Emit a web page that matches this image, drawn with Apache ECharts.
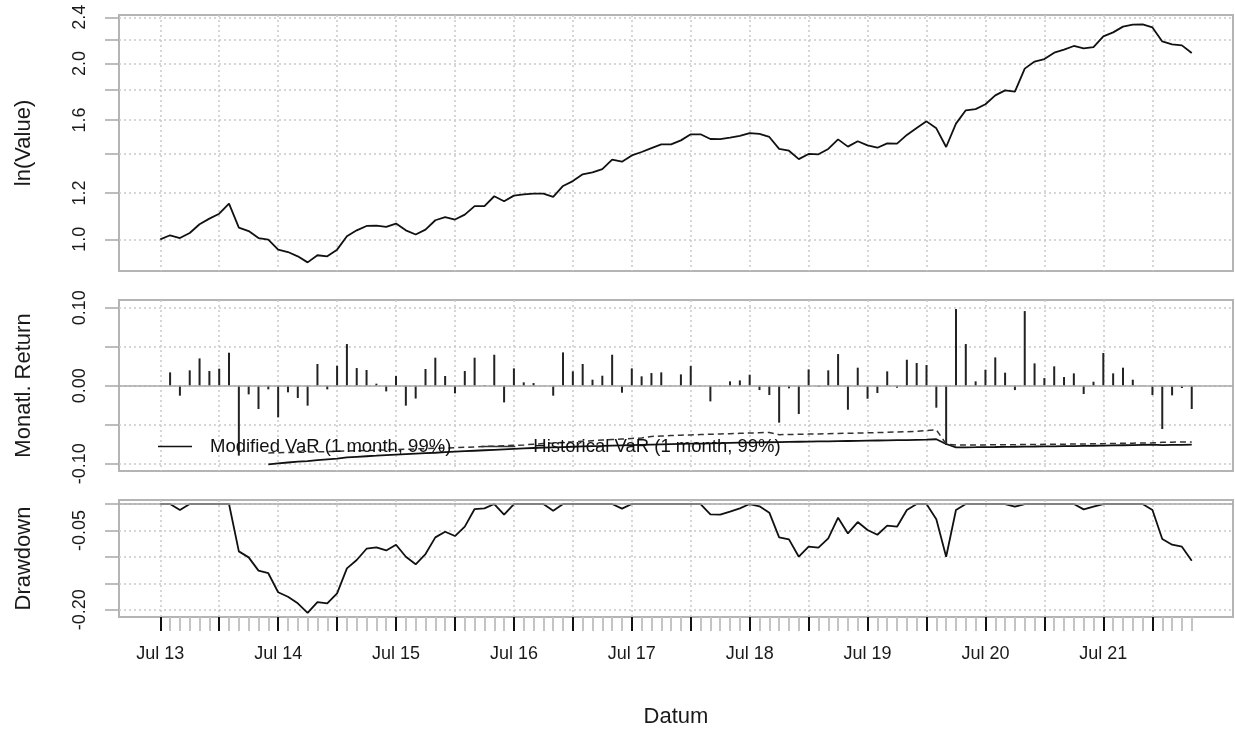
<!DOCTYPE html>
<html><head><meta charset="utf-8">
<script src="https://cdn.jsdelivr.net/npm/echarts@6/dist/echarts.min.js"></script>
<style>html,body{margin:0;padding:0;background:#fff}#c{width:1235px;height:731px}</style>
</head><body><div id="c"></div>
<script>
const dates = [
"2013-07","2013-08","2013-09","2013-10","2013-11","2013-12",
"2014-01","2014-02","2014-03","2014-04","2014-05","2014-06","2014-07","2014-08","2014-09","2014-10","2014-11","2014-12",
"2015-01","2015-02","2015-03","2015-04","2015-05","2015-06","2015-07","2015-08","2015-09","2015-10","2015-11","2015-12",
"2016-01","2016-02","2016-03","2016-04","2016-05","2016-06","2016-07","2016-08","2016-09","2016-10","2016-11","2016-12",
"2017-01","2017-02","2017-03","2017-04","2017-05","2017-06","2017-07","2017-08","2017-09","2017-10","2017-11","2017-12",
"2018-01","2018-02","2018-03","2018-04","2018-05","2018-06","2018-07","2018-08","2018-09","2018-10","2018-11","2018-12",
"2019-01","2019-02","2019-03","2019-04","2019-05","2019-06","2019-07","2019-08","2019-09","2019-10","2019-11","2019-12",
"2020-01","2020-02","2020-03","2020-04","2020-05","2020-06","2020-07","2020-08","2020-09","2020-10","2020-11","2020-12",
"2021-01","2021-02","2021-03","2021-04","2021-05","2021-06","2021-07","2021-08","2021-09","2021-10","2021-11","2021-12",
"2022-01","2022-02","2022-03","2022-04"];

const cumValue = [
1.000,1.016,1.005,1.025,1.061,1.085,1.106,1.151,1.047,1.033,1.005,0.999,0.960,0.951,0.935,0.913,0.939,0.935,0.960,1.012,
1.036,1.054,1.055,1.050,1.064,1.036,1.019,1.039,1.078,1.091,1.081,1.102,1.140,1.140,1.185,1.162,1.188,1.194,1.197,1.197,
1.182,1.234,1.258,1.292,1.302,1.319,1.369,1.358,1.392,1.411,1.433,1.454,1.454,1.477,1.513,1.513,1.485,1.484,1.493,1.503,
1.520,1.515,1.497,1.428,1.418,1.372,1.400,1.398,1.428,1.483,1.441,1.472,1.448,1.435,1.460,1.458,1.509,1.551,1.592,1.549,
1.439,1.578,1.663,1.671,1.703,1.764,1.799,1.790,1.960,2.015,2.035,2.087,2.112,2.143,2.123,2.134,2.226,2.261,2.313,2.331,
2.334,2.306,2.182,2.157,2.148,2.084];

const monthlyReturn = [
0,0.0171,-0.0128,0.0197,0.0350,0.0188,0.0218,0.0423,-0.0897,-0.0111,-0.0299,-0.0047,-0.0406,-0.0085,-0.0158,-0.0256,0.0278,-0.0047,0.0256,0.0534,
0.0226,0.0201,0.0026,-0.0073,0.0124,-0.0256,-0.0165,0.0214,0.0359,0.0124,-0.0098,0.0188,0.0359,0.0009,0.0397,-0.0214,0.0222,0.0043,0.0034,0.0003,
-0.0128,0.0427,0.0184,0.0278,0.0077,0.0128,0.0397,-0.0090,0.0222,0.0120,0.0162,0.0171,0.0003,0.0145,0.0252,0.0003,-0.0201,-0.0004,0.0056,0.0068,
0.0141,-0.0056,-0.0120,-0.0474,-0.0034,-0.0363,0.0209,-0.0013,0.0197,0.0406,-0.0308,0.0231,-0.0167,-0.0094,0.0184,-0.0026,0.0333,0.0291,0.0265,-0.0282,
-0.0760,0.0983,0.0534,0.0056,0.0205,0.0363,0.0167,-0.0056,0.0957,0.0286,0.0098,0.0248,0.0111,0.0158,-0.0107,0.0051,0.0419,0.0158,0.0231,0.0077,
0.0004,-0.0120,-0.0556,-0.0124,-0.0030,-0.0299];

const drawdown = [
0,0,-0.0114,0,0,0,0,0,-0.0896,-0.101,-0.126,-0.131,-0.167,-0.1755,-0.188,-0.206,-0.1856,-0.188,-0.169,-0.1218,
-0.106,-0.0846,-0.082,-0.0878,-0.077,-0.0997,-0.114,-0.0947,-0.0631,-0.0524,-0.0606,-0.0429,-0.0095,-0.0082,0,-0.0202,0,0,0,0,
-0.0126,0,0,0,0,0,0,-0.0088,0,0,0,0,0,0,0,0,-0.0196,-0.0202,-0.0145,-0.0082,
0,-0.0044,-0.0164,-0.0631,-0.0669,-0.0997,-0.0808,-0.0827,-0.065,-0.0259,-0.0556,-0.0341,-0.0492,-0.0581,-0.041,-0.0429,-0.0114,0,0,-0.029,
-0.0997,-0.0114,0,0,0,0,0,-0.005,0,0,0,0,0,0,-0.0101,-0.005,0,0,0,0,
0,-0.0114,-0.0663,-0.077,-0.0808,-0.1073];

const modifiedVaR = [
null,null,null,null,null,null,null,null,null,null,null,
-0.1008,-0.0995,-0.0985,-0.0975,-0.0968,-0.0955,-0.0945,-0.0935,-0.0920,
-0.0912,-0.0905,-0.0898,-0.0890,-0.0884,-0.0878,-0.0872,-0.0866,-0.0860,-0.0853,
-0.0846,-0.0840,-0.0834,-0.0828,-0.0822,-0.0816,-0.0810,-0.0804,-0.0799,-0.0795,
-0.0791,-0.0787,-0.0783,-0.0779,-0.0775,-0.0772,-0.0768,-0.0765,-0.0762,-0.0759,
-0.0756,-0.0753,-0.0750,-0.0747,-0.0744,-0.0742,-0.0739,-0.0736,-0.0733,-0.0731,
-0.0729,-0.0727,-0.0725,-0.0723,-0.0721,-0.0719,-0.0717,-0.0715,-0.0713,-0.0711,
-0.0709,-0.0707,-0.0705,-0.0703,-0.0701,-0.0699,-0.0697,-0.0694,-0.0691,-0.0687,
-0.0748,-0.0792,-0.0790,-0.0789,-0.0787,-0.0786,-0.0784,-0.0783,-0.0781,-0.0780,
-0.0778,-0.0777,-0.0775,-0.0774,-0.0772,-0.0770,-0.0768,-0.0766,-0.0764,-0.0762,
-0.0759,-0.0756,-0.0762,-0.0760,-0.0758,-0.0757];

const historicalVaR = [
null,null,null,null,null,null,null,null,null,null,null,
-0.0862,-0.0860,-0.0857,-0.0855,-0.0852,-0.0848,-0.0845,-0.0842,-0.0838,
-0.0835,-0.0831,-0.0827,-0.0823,-0.0819,-0.0815,-0.0811,-0.0807,-0.0803,-0.0799,
-0.0795,-0.0790,-0.0785,-0.0780,-0.0775,-0.0770,-0.0765,-0.0760,-0.0750,-0.0742,
-0.0735,-0.0727,-0.0720,-0.0712,-0.0705,-0.0698,-0.0691,-0.0684,-0.0677,-0.0670,
-0.0651,-0.0645,-0.0640,-0.0635,-0.0631,-0.0627,-0.0623,-0.0619,-0.0615,-0.0611,
-0.0607,-0.0603,-0.0600,-0.0628,-0.0626,-0.0624,-0.0621,-0.0619,-0.0616,-0.0613,
-0.0610,-0.0607,-0.0604,-0.0601,-0.0598,-0.0594,-0.0590,-0.0584,-0.0575,-0.0566,
-0.0748,-0.0762,-0.0761,-0.0760,-0.0759,-0.0758,-0.0757,-0.0756,-0.0755,-0.0754,
-0.0752,-0.0751,-0.0750,-0.0748,-0.0747,-0.0745,-0.0743,-0.0741,-0.0739,-0.0737,
-0.0735,-0.0733,-0.0726,-0.0724,-0.0723,-0.0722];

const valueTicks = [1.0,1.2,1.4,1.6,1.8,2.0,2.2,2.4];
const valueLabels = [1.0,1.2,1.6,2.0,2.4];
const returnTicks = [-0.10,-0.05,0,0.05,0.10];
const returnLabels = [-0.10,0,0.10];
const ddTicks = [-0.20,-0.15,-0.10,-0.05,0];
const ddLabels = [-0.20,-0.05];
const majorTickIdx = [0,6,12,18,24,30,36,42,48,54,60,66,72,78,84,90,96,101];
const xLabelIdx = [0,12,24,36,48,60,72,84,96];
const monthNames = ["Jan","Feb","Mar","Apr","May","Jun","Jul","Aug","Sep","Oct","Nov","Dec"];

const FONT = "'Liberation Sans', Arial, Helvetica, sans-serif";
const GRIDC = '#c9c9c9';
const BOXC = '#b4b4b4';
const TICKC = '#a8a8a8';
const minorTickIdx = dates.map((d,i)=>i).filter(i=>majorTickIdx.indexOf(i)<0);
function fmtDate(i){ const d = dates[Math.round(i)]; if(!d) return ''; return monthNames[+d.slice(5,7)-1] + ' ' + d.slice(2,4); }
const pairs = arr => arr.map((v,i)=> [i, v]);

const grids = [
  {left:119, right:2, top:15, height:256},
  {left:119, right:2, top:300, height:171},
  {left:119, right:2, top:500, height:117}
].map(g => Object.assign(g, {show:true, borderColor:BOXC, borderWidth:2, backgroundColor:'transparent'}));

const splitDotted = {show:true, lineStyle:{color:GRIDC, type:[2,3], width:1.5}};
const xMin = -4.2, xMax = 109.2;
function plainX(gi){
  return {type:'value', gridIndex:gi, min:xMin, max:xMax, position:'bottom',
    axisLine:{show:false, onZero:false}, axisTick:{show:false, customValues:majorTickIdx},
    axisLabel:{show:false}, splitLine:splitDotted};
}
function yAx(gi, min, max, ticks, labels, name, fmt){
  return {type:'value', gridIndex:gi, min:min, max:max,
    axisLine:{show:false, onZero:false},
    axisTick:{show:true, length:14, customValues:ticks, lineStyle:{color:TICKC, width:1.5}},
    axisLabel:{show:true, customValues:labels, rotate:90, margin:30, fontSize:18, color:'#1a1a1a', fontFamily:FONT, formatter:fmt},
    splitLine:splitDotted,
    name:name, nameLocation:'middle', nameGap:84, nameRotate:90,
    nameTextStyle:{fontSize:22, color:'#1a1a1a', fontFamily:FONT}
  };
}

const option = {
  animation:false,
  backgroundColor:'#fff',
  textStyle:{fontFamily:FONT},
  grid:grids,
  legend:{
    show:true, left:153, top:432, orient:'horizontal', icon:'rect', itemWidth:34, itemHeight:1.6, itemGap:30,
    textStyle:{fontSize:18.5, color:'#111', fontFamily:FONT, padding:[0,0,0,13]},
    data:['Modified VaR (1 month, 99%)','Historical VaR (1 month, 99%)']
  },
  xAxis:[
    plainX(0),
    plainX(1),
    {type:'value', gridIndex:2, min:xMin, max:xMax, position:'bottom',
      axisLine:{show:false, onZero:false},
      axisTick:{show:true, length:14, customValues:majorTickIdx, lineStyle:{color:'#111', width:2}},
      axisLabel:{show:true, customValues:xLabelIdx, margin:28, fontSize:18, color:'#1a1a1a', fontFamily:FONT, formatter:fmtDate},
      splitLine:splitDotted,
      name:'Datum', nameLocation:'middle', nameGap:89,
      nameTextStyle:{fontSize:22, color:'#1a1a1a', fontFamily:FONT}},
    {type:'value', gridIndex:2, min:xMin, max:xMax, position:'bottom',
      axisLine:{show:false, onZero:false},
      axisTick:{show:true, length:14, customValues:minorTickIdx, lineStyle:{color:'#c4c4c4', width:2}},
      axisLabel:{show:false}, splitLine:{show:false}}
  ],
  yAxis:[
    yAx(0, Math.log(0.8825), Math.log(2.4215), valueTicks.map(v=>Math.log(v)), valueLabels.map(v=>Math.log(v)), 'ln(Value)', v=>Math.exp(v).toFixed(1)),
    yAx(1, -0.1094, 0.1099, returnTicks, returnLabels, 'Monatl. Return', v=>v.toFixed(2)),
    yAx(2, -0.2138, 0.0076, ddTicks, ddLabels, 'Drawdown', v=>v.toFixed(2))
  ],
  series:[
    {type:'line', name:'ln(Value)', xAxisIndex:0, yAxisIndex:0, symbol:'none',
      lineStyle:{color:'#111', width:1.8}, data:cumValue.map((v,i)=>[i, Math.log(v)])},
    {type:'bar', name:'Monatl. Return', xAxisIndex:1, yAxisIndex:1, barWidth:2,
      itemStyle:{color:'#222'}, data:pairs(monthlyReturn),
      markLine:{silent:true, symbol:'none', label:{show:false}, animation:false,
        lineStyle:{color:'#a8a8a8', type:'solid', width:1.5}, data:[{yAxis:0}]}},
    {type:'line', name:'Modified VaR (1 month, 99%)', xAxisIndex:1, yAxisIndex:1, symbol:'none',
      lineStyle:{color:'#111', width:1.8, type:'solid'}, itemStyle:{color:'#111'}, data:pairs(modifiedVaR)},
    {type:'line', name:'Historical VaR (1 month, 99%)', xAxisIndex:1, yAxisIndex:1, symbol:'none',
      lineStyle:{color:'#333', width:1.5, type:[6,4]}, itemStyle:{color:'#333'}, data:pairs(historicalVaR)},
    {type:'line', name:'Drawdown', xAxisIndex:2, yAxisIndex:2, symbol:'none',
      lineStyle:{color:'#111', width:1.8}, data:pairs(drawdown),
      markLine:{silent:true, symbol:'none', label:{show:false}, animation:false,
        lineStyle:{color:'#a8a8a8', type:'solid', width:1.5}, data:[{yAxis:0}]}}
  ]
};
const chart = echarts.init(document.getElementById('c'), null, {renderer:'canvas'});
chart.setOption(option);
</script>
</body></html>
